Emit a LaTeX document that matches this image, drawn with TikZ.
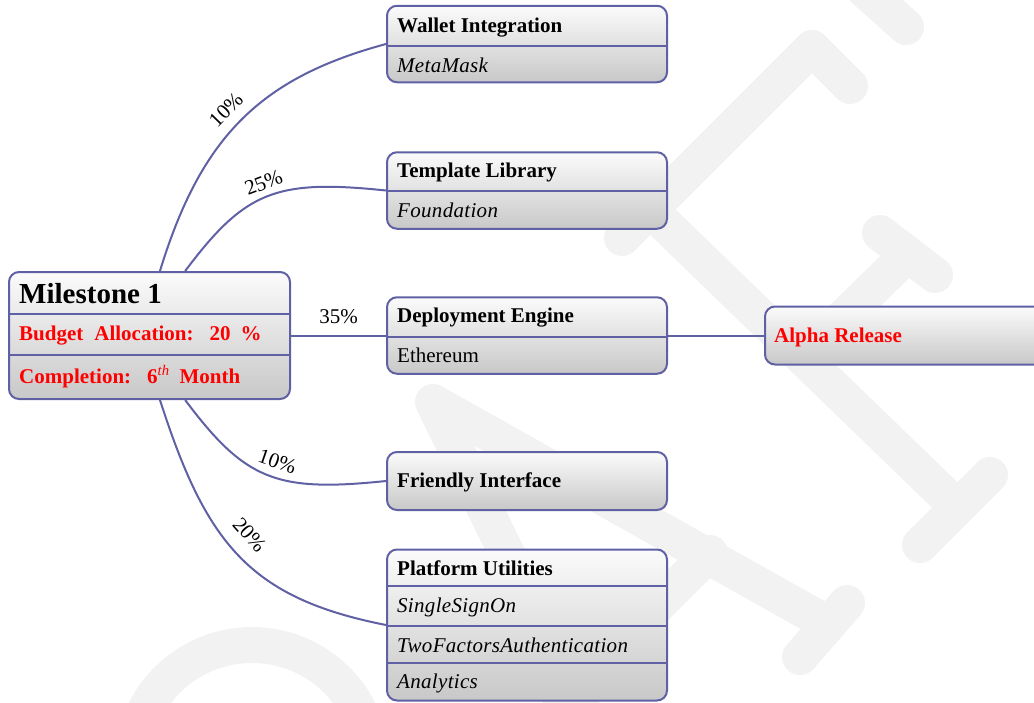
\documentclass[tikz,border=0pt]{standalone}
\usepackage{fontspec}
\setmainfont{Liberation Serif}
\newfontfamily\itsp[LetterSpace=1.5]{Liberation Serif}
\usetikzlibrary{calc}
\definecolor{bord}{RGB}{96,96,164}
\definecolor{wmark}{RGB}{242,242,242}
\definecolor{topc}{RGB}{251,251,251}
\definecolor{botc}{RGB}{200,200,200}
\newcommand{\fsn}{\fontsize{21}{25}\selectfont}
\newcommand{\fsb}{\fontsize{29}{34}\selectfont}
\begin{document}
\begin{tikzpicture}[x=1pt, y=-1pt,
  boxframe/.style={draw=bord, line width=2pt, rounded corners=10pt, top color=topc, bottom color=botc, inner sep=0pt},
  divider/.style={draw=bord, line width=2pt},
  linkline/.style={draw=bord, line width=2pt},
  wm/.style={draw=wmark, line width=36pt, line cap=round, line join=round},
  hd/.style={anchor=base west, inner sep=0pt, font=\fsn\bfseries},
  itx/.style={anchor=base west, inner sep=0pt, font=\fsn\itsp\itshape},
  tx/.style={anchor=base west, inner sep=0pt, font=\fsn},
  rd/.style={anchor=base west, inner sep=0pt, font=\fsn\bfseries, text=red},
  pct/.style={font=\fsn, sloped, inner sep=5pt}
]
\useasboundingbox (0,0) rectangle (1034,702);
% watermark
\begin{scope}
\clip (0,0) rectangle (1034,702);
\draw[wm] (848,-25) -- (906,27);
\draw[wm] (622,238) -- (812,48) -- (850,86);
\draw[wm] (640,200) -- (952,502);
\draw[wm] (990,475) -- (920,545);
\draw[wm] (907,255) -- (810,350);
\draw[wm] (880,233) -- (935,275);
\draw[wm] (588,720) -- (433,402) -- (825,622);
\draw[wm] (847,603) -- (800,657);
\draw[wm] (710,553) -- (560,703);
\draw[wm] (252,765) circle[radius=120];
\end{scope}
% boxes
\node[boxframe, minimum width=281pt, minimum height=127pt] (ms) at (149.5,335.5) {};
\node[boxframe, minimum width=280pt, minimum height=76.5pt] (wallet) at (527,44) {};
\node[boxframe, minimum width=280pt, minimum height=76.5pt] (templ) at (527,190.5) {};
\node[boxframe, minimum width=280pt, minimum height=76.5pt] (deploy) at (527,335.5) {};
\node[boxframe, minimum width=280pt, minimum height=58pt] (friend) at (527,481) {};
\node[boxframe, minimum width=280pt, minimum height=151pt] (plat) at (527,625) {};
\node[boxframe, minimum width=280pt, minimum height=58pt] (alpha) at (905,335.5) {};
% dividers
\draw[divider] (ms.west |- 0,314) -- (ms.east |- 0,314);
\draw[divider] (ms.west |- 0,354.5) -- (ms.east |- 0,354.5);
\draw[divider] (wallet.west |- 0,46) -- (wallet.east |- 0,46);
\draw[divider] (templ.west |- 0,191) -- (templ.east |- 0,191);
\draw[divider] (deploy.west |- 0,337) -- (deploy.east |- 0,337);
\draw[divider] (plat.west |- 0,586) -- (plat.east |- 0,586);
\draw[divider] (plat.west |- 0,626) -- (plat.east |- 0,626);
\draw[divider] (plat.west |- 0,663) -- (plat.east |- 0,663);
% texts
\node[hd, font=\fsb\bfseries] (t0) at (19,303) {Milestone 1};
\node[rd] (t1) at (19,340) {Budget\hspace{11pt}Allocation:\hspace{16pt}20\hspace{10pt}\%};
\node[rd] (t2) at (19,383) {Completion:\hspace{16pt}6\textsuperscript{\normalfont\itshape th}\hspace{10pt}Month};
\node[hd] (t3) at (397,32) {Wallet Integration};
\node[itx] (t4) at (397,72) {MetaMask};
\node[hd] (t5) at (397,177) {Template Library};
\node[itx] (t6) at (397,217) {Foundation};
\node[hd] (t7) at (397,322) {Deployment Engine};
\node[tx] (t8) at (397,362) {Ethereum};
\node[hd] (t9) at (397,487) {Friendly Interface};
\node[hd] (t10) at (397,575) {Platform Utilities};
\node[itx] (t11) at (397,612) {SingleSignOn};
\node[itx] (t12) at (397,652) {TwoFactorsAuthentication};
\node[itx] (t13) at (397,688) {Analytics};
\node[rd] (t14) at (774,342) {Alpha Release};
% connectors
\draw[linkline] ($(ms.north west)!0.537!(ms.north east)$) .. controls +(41,-134) and +(-126,34) .. (wallet.west)
  node[pct, pos=0.49, above=5pt] (l1) {10\%};
\draw[linkline] ($(ms.north west)!0.626!(ms.north east)$) .. controls +(60,-80) and +(-110,-11.5) .. (templ.west)
  node[pct, pos=0.51, above=1pt] (l2) {25\%};
\draw[linkline] (ms.east) -- (deploy.west) node[pct, midway, above=5.5pt] (l3) {35\%};
\draw[linkline] ($(ms.south west)!0.626!(ms.south east)$) .. controls +(60,80) and +(-110,11.5) .. (friend.west)
  node[pct, pos=0.53, above=3pt] (l4) {10\%};
\draw[linkline] ($(ms.south west)!0.537!(ms.south east)$) .. controls +(46,143) and +(-137,-27) .. (plat.west)
  node[pct, pos=0.47, above=9pt] (l5) {20\%};
\draw[linkline] (deploy.east) -- (alpha.west);
\end{tikzpicture}
\end{document}
